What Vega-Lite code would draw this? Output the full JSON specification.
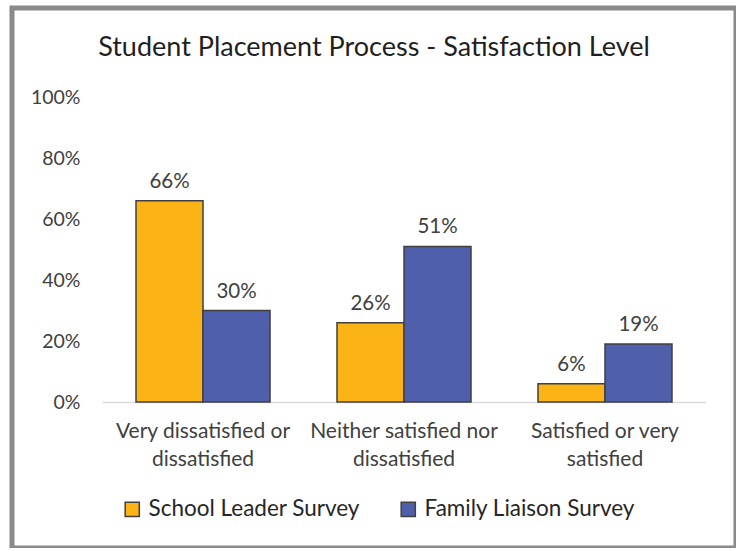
{
  "$schema": "https://vega.github.io/schema/vega-lite/v6.json",
  "width": 724,
  "height": 540,
  "autosize": "none",
  "padding": {"left": 12, "top": 8, "right": 0, "bottom": 0},
  "background": "white",
  "config": {
    "font": "Lato",
    "view": {"stroke": "#8a8a8a", "strokeWidth": 5, "fill": "white"}
  },
  "title": {
    "text": "Student Placement Process - Satisfaction Level",
    "anchor": "middle",
    "fontSize": 27,
    "fontWeight": "normal",
    "color": "#1f1f1f",
    "baseline": "alphabetic",
    "offset": -75
  },
  "data": {
    "values": [
      {"category": "Very dissatisfied or dissatisfied", "survey": "School Leader Survey", "value": 0.66},
      {"category": "Very dissatisfied or dissatisfied", "survey": "Family Liaison Survey", "value": 0.30},
      {"category": "Neither satisfied nor dissatisfied", "survey": "School Leader Survey", "value": 0.26},
      {"category": "Neither satisfied nor dissatisfied", "survey": "Family Liaison Survey", "value": 0.51},
      {"category": "Satisfied or very satisfied", "survey": "School Leader Survey", "value": 0.06},
      {"category": "Satisfied or very satisfied", "survey": "Family Liaison Survey", "value": 0.19}
    ]
  },
  "encoding": {
    "x": {
      "field": "category",
      "type": "nominal",
      "sort": null,
      "scale": {"range": [90.5, 693.5], "paddingInner": 0.3333, "paddingOuter": 0.1667},
      "axis": {
        "title": null,
        "labelAngle": 0,
        "ticks": false,
        "domain": true,
        "domainColor": "#d9d9d9",
        "domainWidth": 1.5,
        "offset": -146,
        "labelPadding": 18,
        "labelBaseline": "top",
        "labelFontSize": 21,
        "labelColor": "#404040",
        "labelLineHeight": 28,
        "labelLimit": 300,
        "labelExpr": "datum.label == 'Very dissatisfied or dissatisfied' ? ['Very dissatisfied or', 'dissatisfied'] : datum.label == 'Neither satisfied nor dissatisfied' ? ['Neither satisfied nor', 'dissatisfied'] : ['Satisfied or very', 'satisfied']"
      }
    },
    "xOffset": {
      "field": "survey",
      "type": "nominal",
      "sort": ["School Leader Survey", "Family Liaison Survey"]
    },
    "y": {
      "field": "value",
      "type": "quantitative",
      "scale": {"domain": [0, 1], "range": [394, 89], "nice": false},
      "axis": {
        "title": null,
        "format": ".0%",
        "values": [0, 0.2, 0.4, 0.6, 0.8, 1],
        "domain": false,
        "ticks": false,
        "grid": false,
        "offset": -68,
        "labelPadding": 0,
        "labelFontSize": 19.5,
        "labelColor": "#404040"
      }
    }
  },
  "layer": [
    {
      "mark": {"type": "bar", "stroke": "#404040", "strokeWidth": 1.5},
      "encoding": {
        "color": {
          "field": "survey",
          "type": "nominal",
          "sort": ["School Leader Survey", "Family Liaison Survey"],
          "scale": {"domain": ["School Leader Survey", "Family Liaison Survey"], "range": ["#fbb316", "#4f5fab"]},
          "legend": {
            "title": null,
            "orient": "none",
            "legendX": 109,
            "legendY": 490,
            "direction": "horizontal",
            "columns": 2,
            "columnPadding": 37,
            "symbolType": "square",
            "symbolSize": 200,
            "symbolStrokeColor": "#404040",
            "symbolStrokeWidth": 1.5,
            "labelFontSize": 22.5,
            "labelColor": "#262626",
            "labelOffset": 5,
            "labelLimit": 400
          }
        }
      }
    },
    {
      "mark": {"type": "text", "baseline": "bottom", "dy": -9, "fontSize": 20.5, "color": "#404040"},
      "encoding": {
        "text": {"field": "value", "type": "quantitative", "format": ".0%"}
      }
    }
  ]
}
